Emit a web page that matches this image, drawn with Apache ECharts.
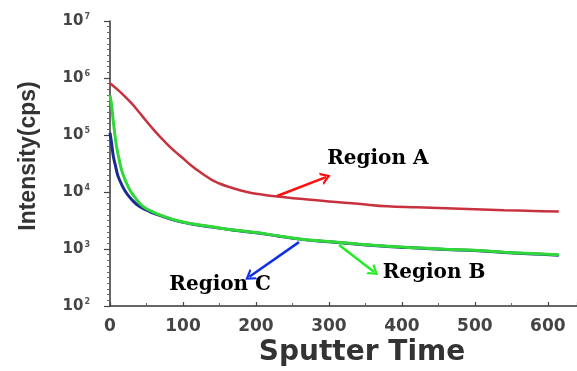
<!DOCTYPE html>
<html>
<head>
<meta charset="utf-8">
<script src="https://cdn.jsdelivr.net/npm/echarts@6/dist/echarts.min.js"></script>
<style>
html,body{margin:0;padding:0;background:#fff;}
#chart{width:577px;height:371px;}
</style>
</head>
<body>
<div id="chart"></div>
<script>
// ---- data ----
var redT = [0, 10, 20, 30, 40, 50, 60, 70, 80, 90, 100, 110, 120, 130, 140, 150, 160, 170, 185, 200, 230, 260, 300, 340, 380, 420, 460, 500, 540, 580, 615];
var redV = [810000, 630000, 480000, 355000, 250000, 174000, 123000, 89000, 66000, 50000, 39000, 30000, 24000, 19500, 16200, 14100, 12600, 11500, 10200, 9300, 8300, 7600, 6800, 6200, 5600, 5400, 5200, 5000, 4800, 4650, 4550];

var greenT = [0, 2, 4, 6, 9, 12, 16, 21, 27, 35, 45, 60, 75, 90, 110, 140, 170, 200, 230, 260, 300, 340, 380, 420, 460, 500, 540, 580, 615];
var greenV = [500000, 350000, 200000, 120000, 62000, 40000, 24000, 16000, 11000, 7800, 5600, 4400, 3700, 3200, 2800, 2450, 2150, 1950, 1700, 1500, 1350, 1220, 1120, 1050, 990, 950, 880, 830, 790];

var blueT = [0, 2, 4.5, 8, 11, 16, 22, 30, 40, 55, 70, 90, 110, 140, 170, 200, 230, 260, 300, 340, 380, 420, 460, 500, 540, 580, 615];
var blueV = [110000, 75000, 43000, 27000, 19000, 13500, 9800, 7300, 5600, 4500, 3800, 3150, 2780, 2420, 2130, 1930, 1690, 1490, 1340, 1210, 1110, 1040, 980, 940, 870, 820, 780];

var xTicks = [0, 100, 200, 300, 400, 500, 600];
var yTickExps = [2, 3, 4, 5, 6, 7];

var labelNames = ['Region A', 'Region B', 'Region C'];
var labelT = [367, 444, 151];
var labelV = [37900, 387, 233];

var arrowStartT = [229, 314, 259];
var arrowStartV = [8500, 1170, 1320];
var arrowEndT = [296, 362, 191];
var arrowEndV = [18300, 395, 325];
var arrowColors = ['#ff1010', '#22ee22', '#1030e8'];

function zip(t, v) { return t.map(function (x, i) { return [x, v[i]]; }); }

var chevron = 'path://M0,10 L5,0 L10,10 L8,10 L5,4 L2,10 Z';

function arrow(i) {
  return {
    silent: true,
    animation: false,
    symbol: ['none', chevron],
    symbolSize: [13, 10],
    label: { show: false },
    lineStyle: { color: arrowColors[i], width: 2.5, type: 'solid' },
    itemStyle: { color: arrowColors[i] },
    emphasis: { disabled: true },
    data: [[{ coord: [arrowStartT[i], arrowStartV[i]] }, { coord: [arrowEndT[i], arrowEndV[i]] }]]
  };
}

var chart = echarts.init(document.getElementById('chart'), null, { renderer: 'canvas' });

chart.setOption({
  animation: false,
  backgroundColor: '#ffffff',
  grid: { left: 110, right: 0, top: 21, bottom: 65, containLabel: false },
  xAxis: {
    type: 'value',
    min: 0, max: 640, interval: 100,
    axisLine: { show: true, onZero: false, lineStyle: { color: '#333', width: 1.5 } },
    axisTick: { show: true, inside: true, length: 4, lineStyle: { color: '#444', width: 1.2 } },
    minorTick: { show: true, splitNumber: 2, length: 3, lineStyle: { color: '#666', width: 1 } },
    splitLine: { show: false },
    axisLabel: {
      margin: 12, showMaxLabel: false,
      fontFamily: 'DejaVu Sans', fontWeight: 'bold', fontSize: 17, color: '#444'
    }
  },
  yAxis: [
    {
      type: 'log', logBase: 10,
      min: 100, max: 10000000,
      axisLine: { show: true, onZero: false, lineStyle: { color: '#333', width: 1.5 } },
      axisTick: { show: true, inside: false, length: 6, lineStyle: { color: '#444', width: 1.2 } },
      splitLine: { show: false },
      axisLabel: {
        margin: 20,
        formatter: function (v) {
          var e = Math.round(Math.log(v) / Math.LN10);
          return '{b|10}{e|' + e + '}';
        },
        rich: {
          b: { fontFamily: 'DejaVu Sans', fontWeight: 'bold', fontSize: 15, color: '#444' },
          e: { fontFamily: 'DejaVu Sans', fontWeight: 'bold', fontSize: 8, color: '#555', padding: [0, 0, 9, 1] }
        }
      }
    },
    {
      // helper axis for evenly spaced minor ticks within each decade
      type: 'value', position: 'left',
      min: yTickExps[0], max: yTickExps[yTickExps.length - 1], interval: 1,
      axisLine: { show: false, onZero: false },
      axisTick: { show: false },
      minorTick: { show: true, splitNumber: 10, length: 3, lineStyle: { color: '#666', width: 1 } },
      splitLine: { show: false },
      minorSplitLine: { show: false },
      axisLabel: { show: false }
    }
  ],
  graphic: [
    {
      type: 'text', x: 29, y: 156, rotation: Math.PI / 2,
      style: {
        text: 'Intensity(cps)', fontFamily: 'Liberation Sans', fontWeight: 'bold', fontSize: 23,
        fill: '#333', align: 'center', verticalAlign: 'middle'
      }
    },
    {
      type: 'text', x: 362, y: 353,
      style: {
        text: 'Sputter Time', fontFamily: 'DejaVu Sans', fontWeight: 'bold', fontSize: 28,
        fill: '#333', align: 'center', verticalAlign: 'middle'
      }
    }
  ],
  series: [
    {
      name: 'Region A', type: 'line', showSymbol: false, symbol: 'none', smooth: 0.4,
      lineStyle: { color: '#c8323e', width: 2.5 },
      data: zip(redT, redV),
      z: 3,
      markLine: arrow(0),
      markPoint: {
        silent: true, animation: false, symbol: 'circle', symbolSize: 0,
        label: {
          show: true, position: 'inside', formatter: '{b}',
          fontFamily: 'DejaVu Serif', fontWeight: 'bold', fontSize: 20, color: '#000'
        },
        data: labelNames.map(function (n, i) { return { name: n, coord: [labelT[i], labelV[i]] }; })
      }
    },
    {
      name: 'Region C', type: 'line', showSymbol: false, symbol: 'none', smooth: 0.4,
      lineStyle: { color: '#1a2a90', width: 3 },
      data: zip(blueT, blueV),
      z: 2,
      markLine: arrow(2)
    },
    {
      name: 'Region B', type: 'line', showSymbol: false, symbol: 'none', smooth: 0.4,
      lineStyle: { color: '#30d838', width: 3 },
      data: zip(greenT, greenV),
      z: 3,
      markLine: arrow(1)
    }
  ]
});
</script>
</body>
</html>
